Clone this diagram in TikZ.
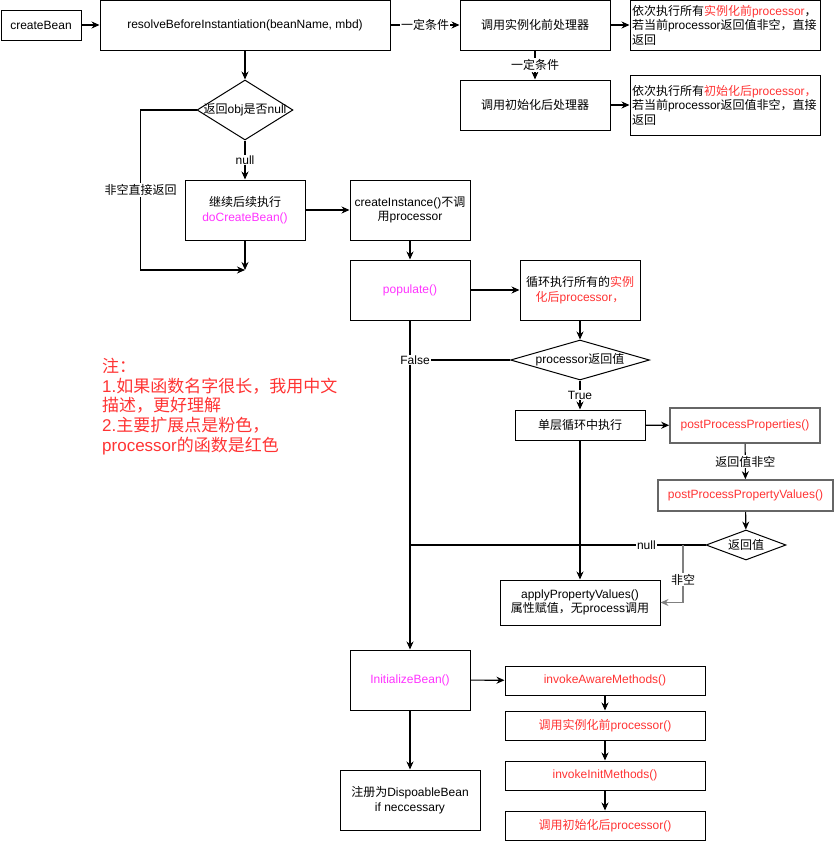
\documentclass[tikz,border=0pt]{standalone}
\usepackage{fontspec}
\setmainfont{Liberation Sans}
\newfontfamily\cjk{Noto Sans CJK SC}
\usetikzlibrary{arrows.meta,shapes.geometric}
\definecolor{fnred}{HTML}{FF3333}
\definecolor{fnpink}{HTML}{FF33FF}
\definecolor{boxgray}{HTML}{666666}
\definecolor{edgegray}{HTML}{808080}
\newcommand\zh[1]{{\cjk #1}}
\newcommand\boxfont{\fontsize{12}{14.5}\selectfont}
\newcommand\notefont{\fontsize{17}{19.7}\selectfont}
\begin{document}
\begin{tikzpicture}[x=1pt,y=-1pt,
  every node/.style={font=\boxfont, inner sep=2pt},
  box/.style={draw, line width=1pt, align=center},
  graybox/.style={draw=boxgray, line width=1.6pt, align=center, text=fnred},
  dec/.style={draw, diamond, line width=1pt, inner sep=0pt},
  arr/.style={-{Stealth[length=8pt,width=7pt]}, line width=1.1pt},
  lbl/.style={fill=white, inner sep=1pt}]
\useasboundingbox (0,0) rectangle (834,841);

\node[box, minimum width=80pt, minimum height=30pt] (create) at (41,25) {createBean};
\node[box, minimum width=290pt, minimum height=50pt] (resolve) at (245,25) {resolveBeforeInstantiation(beanName, mbd)};
\node[box, minimum width=150pt, minimum height=50pt] (pre) at (535,25) {\zh{调用实例化前处理器}};
\node[box, minimum width=190pt, minimum height=50pt, align=left, text width=186pt] (pretxt) at (725,25)
  {\zh{依次执行所有}\textcolor{fnred}{\zh{实例化前}processor}\zh{，}\\\zh{若当前}processor\zh{返回值非空，直接}\\\zh{返回}};
\node[box, minimum width=150pt, minimum height=50pt] (post) at (535,105) {\zh{调用初始化后处理器}};
\node[box, minimum width=190pt, minimum height=60pt, align=left, text width=186pt] (posttxt) at (725,105)
  {\zh{依次执行所有}\textcolor{fnred}{\zh{初始化后}processor\zh{，}}\\\zh{若当前}processor\zh{返回值非空，直接}\\\zh{返回}};

\node[dec, minimum width=96pt, minimum height=60pt, label=center:{\zh{返回}obj\zh{是否}null}] (obj) at (245,110) {};
\node[box, minimum width=120pt, minimum height=60pt] (docreate) at (245,210) {\zh{继续后续执行}\\\textcolor{fnpink}{doCreateBean()}};
\coordinate (join) at (245,270);
\node[box, minimum width=120pt, minimum height=60pt] (inst) at (410,210) {createInstance()\zh{不调}\\\zh{用}processor};
\node[box, minimum width=120pt, minimum height=60pt, text=fnpink] (populate) at (410,290) {populate()};
\node[box, minimum width=120pt, minimum height=60pt] (loop) at (580,290)
  {\zh{循环执行所有的}\textcolor{fnred}{\zh{实例}}\\\textcolor{fnred}{\zh{化后}processor\zh{，}}};
\node[dec, minimum width=139pt, minimum height=40pt, label=center:{processor\zh{返回值}}] (proc) at (580,360) {};
\node[box, minimum width=130pt, minimum height=30pt] (single) at (580,425) {\zh{单层循环中执行}};
\node[graybox, minimum width=150pt, minimum height=35pt] (pp) at (745,425.5) {postProcessProperties()};
\node[graybox, minimum width=175pt, minimum height=31pt] (ppv) at (745.5,495.5) {postProcessPropertyValues()};
\node[dec, minimum width=80pt, minimum height=30pt, label=center:{\zh{返回值}}] (ret) at (746,545) {};
\coordinate (split) at (683,545);
\node[box, minimum width=160pt, minimum height=45pt] (apply) at (580,602.5) {applyPropertyValues()\\\zh{属性赋值，无}process\zh{调用}};

\node[box, minimum width=120pt, minimum height=60pt, text=fnpink] (init) at (410,680) {InitializeBean()};
\node[box, minimum width=140pt, minimum height=60pt] (disp) at (410,800) {\zh{注册为}DispoableBean\\if neccessary};
\node[box, minimum width=200pt, minimum height=29pt, text=fnred] (aware) at (605,680.5) {invokeAwareMethods()};
\node[box, minimum width=200pt, minimum height=29pt, text=fnred] (pre2) at (605,725.5) {\zh{调用实例化前}processor()};
\node[box, minimum width=200pt, minimum height=29pt, text=fnred] (initm) at (605,775.5) {invokeInitMethods()};
\node[box, minimum width=200pt, minimum height=29pt, text=fnred] (post2) at (605,825.5) {\zh{调用初始化后}processor()};

\node[anchor=north west, inner sep=0pt, align=left, text=fnred, font=\notefont] (note) at (102,358)
  {\zh{注：}\\1.\zh{如果函数名字很长，我用中文}\\\zh{描述，更好理解}\\2.\zh{主要扩展点是粉色，}\\processor\zh{的函数是红色}};

\draw[arr] (create) -- (resolve);
\draw[arr] (resolve) -- node[lbl] {\zh{一定条件}} (pre);
\draw[arr] (pre) -- (pretxt);
\draw[arr] (pre) -- node[lbl] {\zh{一定条件}} (post);
\draw[arr] (post) -- (posttxt);
\draw[arr] (resolve) -- (obj);
\draw[arr] (obj) -- node[lbl] {null} (docreate);
\draw[arr] (obj.west) -- ++(-56,0) -- node[lbl] {\zh{非空直接返回}} ++(0,160) -- (join);
\draw[arr] (docreate) -- (join);
\draw[arr] (docreate) -- (inst);
\draw[arr] (inst) -- (populate);
\draw[arr] (populate) -- (loop);
\draw[arr] (loop) -- (proc);
\draw[arr] (populate) -- (init);
\draw[line width=1.1pt] (proc.west) -- node[lbl, pos=0.95] {False} (populate.south |- proc.west);
\draw[arr] (proc) -- node[lbl] {True} (single);
\draw[arr] (single) -- (pp);
\draw[arr] (pp) -- node[lbl] {\zh{返回值非空}} (ppv);
\draw[arr] (ppv) -- (ret);
\draw[line width=1.1pt] (ret.west) -- node[lbl, pos=0.2] {null} (populate.south |- ret.west);
\draw[arr, edgegray] (split) |- node[lbl, pos=0.3, text=black] {\zh{非空}} (apply.east);
\draw[arr] (single) -- (apply);
\draw[arr] (init) -- (disp);
\draw[arr] (init) -- (aware);
\draw[arr] (aware) -- (pre2);
\draw[arr] (pre2) -- (initm);
\draw[arr] (initm) -- (post2);
\end{tikzpicture}
\end{document}
